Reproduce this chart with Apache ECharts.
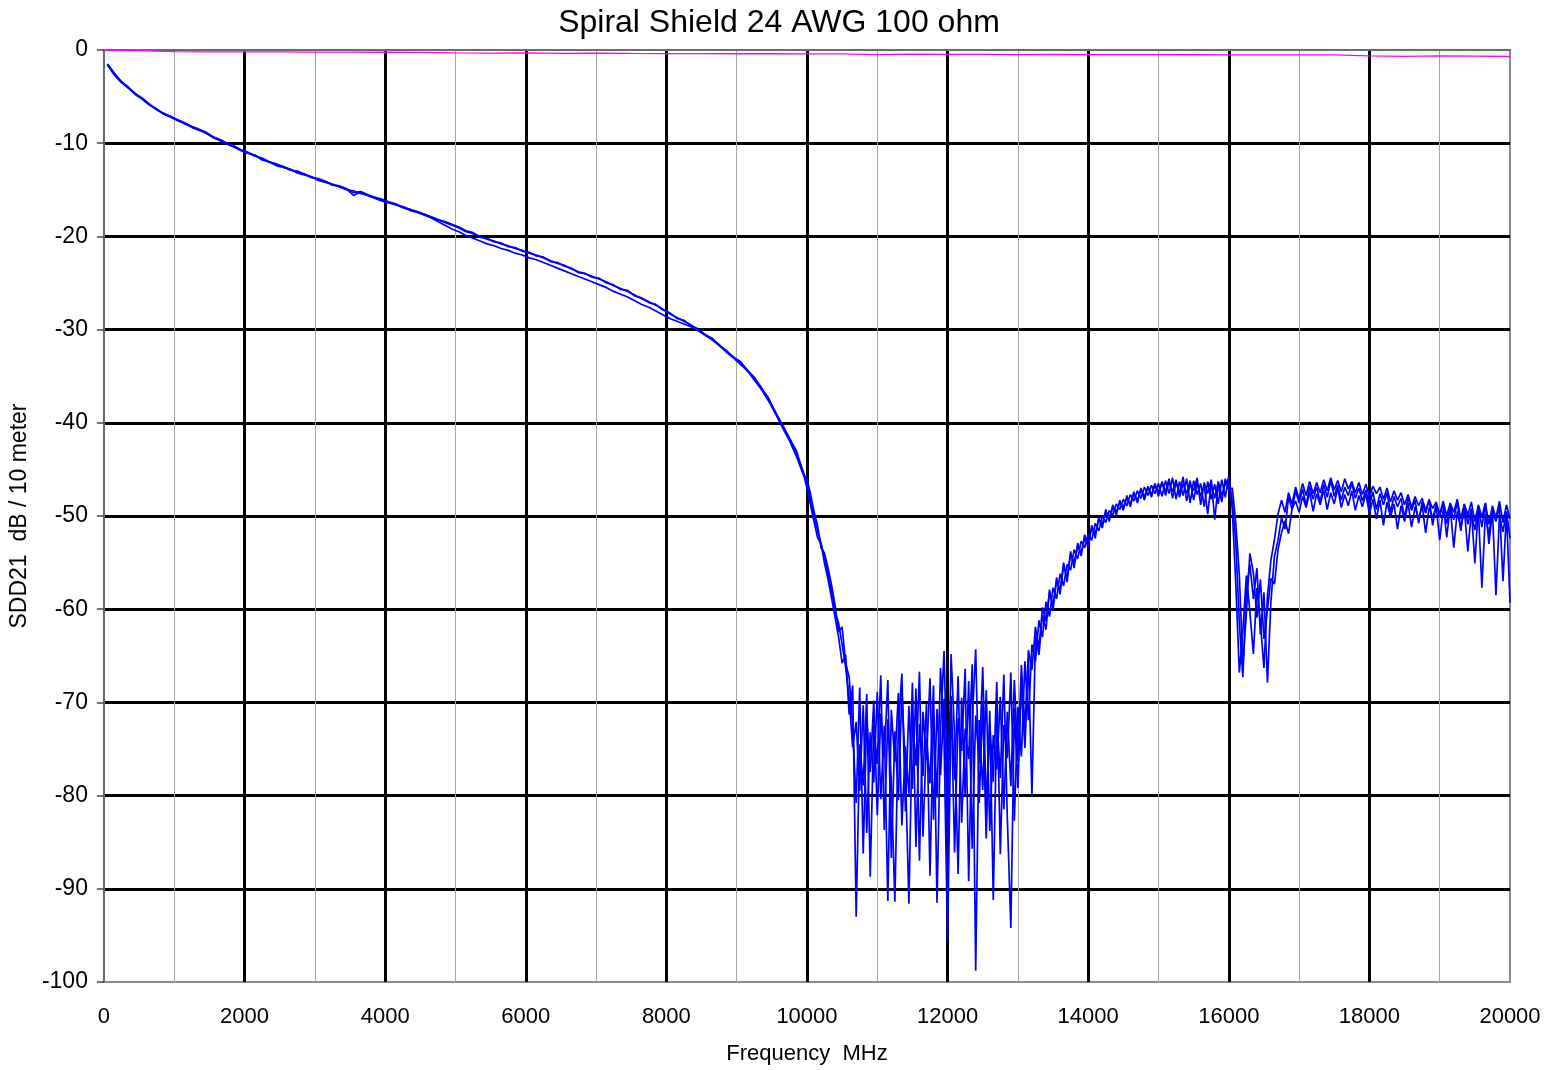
<!DOCTYPE html>
<html>
<head>
<meta charset="utf-8">
<script src="https://cdn.jsdelivr.net/npm/echarts@6/dist/echarts.min.js"></script>
<style>
html,body{margin:0;padding:0;background:#fff;}
#chart{width:1547px;height:1070px;}
</style>
</head>
<body>
<div id="chart"></div>
<script>
// Frequency sampling (MHz)
const LOW_F0 = 50, LOW_STEP = 100;     // 50 .. 9950
const HIGH_F0 = 10000, HIGH_STEP = 50; // 10000 .. 20000
const MAG_F0 = 0, MAG_STEP = 500;      // 0 .. 20000

// Trace 1 (dB)
const trace1Low = [
-1.5,-2.6,-3.4,-4.1,-4.7,-5.3,-5.9,-6.4,-6.8,-7.2,
-7.5,-7.9,-8.2,-8.5,-8.9,-9.3,-9.7,-10.0,-10.4,-10.7,
-11.0,-11.3,-11.7,-12.0,-12.3,-12.5,-12.8,-13.1,-13.3,-13.6,
-13.9,-14.1,-14.4,-14.6,-14.9,-15.3,-15.2,-15.5,-15.8,-16.1,
-16.3,-16.5,-16.9,-17.1,-17.3,-17.6,-17.9,-18.2,-18.5,-18.8,
-19.1,-19.5,-19.7,-20.0,-20.3,-20.5,-20.8,-21.0,-21.3,-21.5,
-21.8,-22.0,-22.3,-22.6,-22.9,-23.1,-23.5,-23.8,-24.0,-24.3,
-24.6,-24.9,-25.3,-25.6,-25.9,-26.3,-26.7,-27.0,-27.4,-27.8,
-28.3,-28.7,-29.1,-29.5,-30.0,-30.5,-31.0,-31.6,-32.3,-32.9,
-33.5,-34.3,-35.2,-36.2,-37.4,-38.8,-40.3,-41.6,-43.2,-45.3
];
const trace1High = [
-46.4,-48.3,-50.1,-51.6,-52.9,-54.5,-56.2,-58.1,-60.3,-61.5,
-63.8,-66.2,-69.5,-74.8,-72.1,-79.5,-70.3,-84.0,-73.2,-78.6,
-68.9,-80.4,-72.5,-91.3,-70.8,-76.4,-69.0,-83.2,-74.7,-79.8,
-67.9,-85.5,-72.3,-77.9,-70.1,-88.6,-71.4,-80.2,-66.3,-74.0,
-95.6,-70.5,-78.3,-67.2,-82.9,-72.8,-76.1,-65.9,-98.8,-71.9,
-79.4,-68.7,-83.8,-73.5,-77.2,-69.4,-81.5,-71.0,-79.0,-67.6,
-76.3,-66.0,-72.8,-64.4,-66.5,-61.9,-64.2,-59.8,-61.3,-58.2,
-59.6,-57.0,-57.9,-55.4,-56.6,-54.1,-55.0,-53.2,-53.9,-52.4,
-52.8,-51.3,-51.9,-50.4,-50.9,-49.6,-50.2,-49.1,-49.5,-48.6,
-49.0,-48.1,-48.7,-47.6,-48.3,-47.2,-47.9,-46.9,-47.7,-46.6,
-47.5,-46.4,-47.8,-46.3,-47.4,-46.1,-48.0,-46.5,-47.6,-46.2,
-48.3,-46.4,-47.9,-46.7,-49.8,-46.5,-48.1,-46.3,-47.8,-46.6,
-46.0,-48.4,-52.9,-61.5,-67.3,-57.8,-55.2,-58.9,-55.6,-62.7,
-58.2,-67.9,-59.1,-54.3,-52.6,-50.2,-51.4,-48.0,-49.3,-47.3,
-48.6,-47.1,-48.9,-46.8,-48.2,-46.9,-48.5,-46.6,-48.0,-46.2,
-47.9,-46.7,-48.3,-46.9,-47.8,-46.5,-48.1,-47.0,-48.4,-47.2,
-48.9,-47.4,-49.3,-47.6,-48.8,-47.5,-49.6,-47.9,-49.0,-48.1,
-50.2,-48.0,-49.4,-48.3,-50.8,-48.5,-49.7,-48.2,-51.0,-48.7,
-50.1,-48.6,-52.3,-48.9,-50.4,-48.4,-51.6,-48.8,-50.9,-49.2,
-55.1,-49.0,-51.2,-48.7,-53.0,-49.4,-50.6,-48.9,-57.0,-49.6,
-59.3
];

// Trace 2 (dB)
const trace2Low = [
-1.6,-2.7,-3.5,-4.1,-4.8,-5.3,-5.9,-6.3,-6.9,-7.2,
-7.6,-7.9,-8.3,-8.6,-8.9,-9.4,-9.7,-10.1,-10.4,-10.8,
-11.1,-11.3,-11.8,-12.0,-12.4,-12.6,-12.8,-13.2,-13.4,-13.6,
-14.0,-14.2,-14.4,-14.7,-15.0,-15.1,-15.4,-15.6,-15.9,-16.2,
-16.4,-16.6,-16.9,-17.2,-17.4,-17.7,-18.0,-18.4,-18.8,-19.2,
-19.5,-19.9,-20.2,-20.5,-20.8,-21.0,-21.3,-21.5,-21.8,-22.0,
-22.3,-22.5,-22.8,-23.1,-23.4,-23.7,-24.0,-24.3,-24.6,-24.9,
-25.2,-25.5,-25.9,-26.2,-26.5,-26.9,-27.3,-27.6,-28.0,-28.4,
-28.8,-29.1,-29.4,-29.7,-30.1,-30.6,-31.1,-31.7,-32.4,-33.0,
-33.7,-34.4,-35.4,-36.4,-37.6,-39.0,-40.5,-41.9,-43.6,-45.6
];
const trace2High = [
-46.0,-47.6,-49.5,-51.0,-53.4,-54.0,-55.6,-57.4,-59.6,-62.4,
-61.9,-65.8,-67.3,-72.6,-80.8,-68.4,-86.2,-71.7,-77.5,-69.8,
-82.1,-71.2,-75.9,-67.6,-86.7,-73.1,-80.5,-68.8,-77.0,-91.6,
-71.6,-76.8,-66.7,-84.4,-73.8,-78.7,-68.2,-91.5,-72.9,-64.5,
-79.6,-69.3,-86.1,-71.7,-75.2,-66.4,-89.2,-72.0,-64.3,-80.8,
-70.2,-84.6,-70.9,-91.2,-71.3,-78.1,-67.0,-82.4,-94.2,-70.6,
-79.2,-68.1,-74.9,-65.3,-80.0,-62.8,-64.9,-60.6,-62.2,-57.9,
-60.1,-56.6,-58.4,-55.0,-57.1,-53.8,-55.6,-52.9,-54.3,-52.0,
-53.5,-51.0,-52.4,-50.1,-51.3,-49.3,-50.6,-48.8,-49.9,-48.3,
-49.4,-47.8,-49.0,-47.4,-48.6,-47.0,-48.3,-46.8,-48.0,-46.5,
-47.9,-46.3,-47.4,-46.0,-48.1,-46.4,-47.5,-45.8,-48.4,-46.6,
-47.3,-45.9,-48.8,-46.4,-47.6,-46.1,-50.4,-46.6,-48.5,-46.0,
-47.2,-47.0,-50.8,-56.3,-66.1,-60.4,-54.0,-56.1,-60.9,-56.8,
-63.2,-60.0,-56.7,-57.3,-53.6,-51.8,-50.5,-51.9,-49.2,-48.4,
-49.6,-47.9,-49.1,-47.4,-49.5,-47.6,-48.8,-47.2,-49.3,-47.5,
-48.7,-47.0,-49.1,-47.7,-48.9,-47.3,-49.4,-47.8,-49.0,-47.6,
-49.8,-48.2,-50.3,-48.3,-51.0,-48.5,-50.1,-48.7,-51.4,-48.9,
-50.6,-48.6,-51.2,-49.0,-50.4,-48.8,-51.8,-49.1,-50.2,-48.9,
-52.6,-49.3,-50.8,-49.0,-53.4,-49.5,-51.3,-49.2,-53.8,-49.6,
-51.5,-49.4,-57.7,-49.8,-52.1,-49.3,-58.5,-50.0,-51.7,-49.5,
-52.4
];

// Trace 3 (dB)
const trace3Low = [
-1.5,-2.5,-3.4,-4.0,-4.7,-5.2,-5.8,-6.4,-6.8,-7.1,
-7.5,-7.8,-8.2,-8.5,-8.8,-9.3,-9.6,-10.0,-10.3,-10.7,
-11.0,-11.4,-11.6,-12.0,-12.2,-12.5,-12.9,-13.0,-13.3,-13.7,
-13.8,-14.1,-14.5,-14.6,-14.9,-15.6,-15.2,-15.6,-15.8,-16.0,
-16.3,-16.6,-16.8,-17.1,-17.4,-17.6,-17.9,-18.2,-18.4,-18.7,
-19.0,-19.4,-19.6,-20.1,-20.2,-20.6,-20.7,-21.1,-21.2,-21.6,
-21.7,-22.1,-22.2,-22.7,-22.8,-23.2,-23.4,-23.9,-24.0,-24.4,
-24.5,-25.0,-25.2,-25.7,-25.8,-26.4,-26.6,-27.1,-27.3,-27.9,
-28.2,-28.8,-29.0,-29.6,-29.9,-30.6,-30.9,-31.7,-32.2,-33.0,
-33.4,-34.4,-35.1,-36.3,-37.3,-38.9,-40.2,-41.7,-43.0,-45.5
];
const trace3High = [
-47.0,-48.8,-50.6,-52.3,-53.0,-55.1,-56.8,-58.8,-60.9,-63.0,
-65.8,-64.9,-71.3,-68.2,-93.0,-74.5,-78.9,-69.1,-88.7,-72.4,
-76.6,-67.1,-83.7,-71.8,-78.5,-91.4,-72.6,-66.9,-81.7,-70.4,
-79.3,-68.5,-87.0,-71.0,-76.2,-67.4,-82.6,-70.7,-77.8,-69.6,
-84.9,-64.8,-73.6,-88.4,-69.5,-79.9,-67.7,-85.7,-71.4,-76.5,
-66.2,-81.1,-72.2,-78.5,-67.8,-86.3,-72.4,-76.0,-66.8,-82.7,
-70.5,-75.8,-65.6,-71.9,-63.8,-65.6,-61.2,-63.0,-59.2,-60.8,
-57.7,-58.9,-56.2,-57.5,-55.2,-55.8,-53.6,-54.6,-52.7,-53.4,
-51.9,-52.6,-50.8,-51.6,-50.0,-50.7,-49.4,-49.9,-48.7,-49.3,
-48.2,-48.9,-47.7,-48.4,-47.3,-48.1,-46.9,-47.8,-46.7,-47.6,
-46.5,-47.9,-46.2,-47.6,-45.9,-48.2,-46.3,-47.8,-46.0,-48.6,
-46.2,-47.7,-46.5,-49.0,-46.3,-48.2,-46.6,-48.7,-46.1,-48.0,
-45.7,-49.3,-57.4,-66.8,-62.3,-56.4,-60.3,-64.8,-57.7,-61.5,
-66.3,-58.6,-54.7,-52.5,-49.8,-48.3,-49.6,-47.5,-48.7,-46.9,
-48.2,-46.5,-47.8,-46.3,-47.6,-46.4,-47.5,-46.1,-47.3,-45.9,
-47.2,-46.2,-47.4,-46.0,-47.1,-46.3,-47.5,-46.4,-47.7,-46.6,
-47.9,-46.8,-47.6,-46.9,-48.2,-47.0,-48.5,-47.3,-48.3,-47.5,
-48.8,-47.7,-49.1,-47.9,-48.9,-48.1,-49.4,-48.3,-49.2,-48.5,
-49.8,-48.4,-50.0,-48.6,-49.6,-48.2,-50.3,-48.7,-49.9,-48.5,
-50.6,-48.8,-50.1,-48.6,-50.9,-48.9,-50.2,-48.4,-50.7,-48.8,
-50.3
];

// Magenta reference trace (dB), 0..20000 step 500
const magenta = [
-0.05,-0.07,-0.18,-0.20,-0.20,-0.21,-0.22,-0.22,-0.24,-0.25,
-0.30,-0.33,-0.30,-0.36,-0.35,-0.37,-0.38,-0.38,-0.40,-0.40,
-0.41,-0.42,-0.50,-0.45,-0.47,-0.46,-0.50,-0.48,-0.50,-0.50,
-0.50,-0.51,-0.52,-0.52,-0.52,-0.53,-0.62,-0.68,-0.63,-0.66,
-0.70
];

// Axis ticks
const xTicks = { min: 0, max: 20000, interval: 2000 };
const yTicks = { min: -100, max: 0, interval: 10 };

function pairs(f0, step, vals) {
  return vals.map((v, i) => [f0 + i * step, v]);
}
function trace(low, high) {
  return pairs(LOW_F0, LOW_STEP, low).concat(pairs(HIGH_F0, HIGH_STEP, high));
}

const FONT = "'Liberation Sans', Arial, sans-serif";
const chart = echarts.init(document.getElementById('chart'), null, { renderer: 'canvas' });

const blueLine = (name, data) => ({
  name, type: 'line', data, showSymbol: false, symbol: 'none',
  lineStyle: { color: '#0000ff', width: 1.7 }, itemStyle: { color: '#0000ff' },
  z: 3
});

chart.setOption({
  animation: false,
  backgroundColor: '#ffffff',
  title: {
    text: 'Spiral Shield 24 AWG 100 ohm',
    left: 774, top: 2, textAlign: 'center',
    textStyle: { fontFamily: FONT, fontSize: 32, fontWeight: 'normal', color: '#000' }
  },
  grid: {
    left: 102, right: 37, top: 50, bottom: 83,
    show: true, borderColor: '#8c8c8c', borderWidth: 2, backgroundColor: 'transparent'
  },
  xAxis: {
    type: 'value', min: xTicks.min, max: xTicks.max, interval: xTicks.interval,
    name: 'Frequency  MHz', nameLocation: 'middle', nameGap: 61,
    nameTextStyle: { fontFamily: FONT, fontSize: 22, color: '#000' },
    axisLine: { show: true, lineStyle: { color: '#6b6b6b', width: 2 } },
    axisTick: { show: false },
    axisLabel: { fontFamily: FONT, fontSize: 22, color: '#000', margin: 24,
      formatter: (v) => String(v) },
    splitLine: { show: true, showMinLine: false, showMaxLine: false, lineStyle: { color: '#000', width: 3 } },
    minorTick: { show: false, splitNumber: 2 },
    minorSplitLine: { show: true, lineStyle: { color: '#a6a6a6', width: 1 } }
  },
  yAxis: {
    type: 'value', min: yTicks.min, max: yTicks.max, interval: yTicks.interval,
    name: 'SDD21  dB / 10 meter', nameLocation: 'middle', nameGap: 58, nameRotate: 90,
    nameTextStyle: { fontFamily: FONT, fontSize: 23, color: '#000' },
    axisLine: { show: true, lineStyle: { color: '#6b6b6b', width: 2 } },
    axisTick: { show: true, inside: false, length: 7, lineStyle: { color: '#444', width: 1.5 } },
    axisLabel: { fontFamily: FONT, fontSize: 23, color: '#000', margin: 16,
      formatter: (v) => String(v) },
    splitLine: { show: true, showMinLine: false, showMaxLine: false, lineStyle: { color: '#000', width: 3 } }
  },
  series: [
    blueLine('Trace 1', trace(trace1Low, trace1High)),
    blueLine('Trace 2', trace(trace2Low, trace2High)),
    blueLine('Trace 3', trace(trace3Low, trace3High)),
    {
      name: 'Reference', type: 'line', data: pairs(MAG_F0, MAG_STEP, magenta),
      showSymbol: false, symbol: 'none',
      lineStyle: { color: '#ff00ff', width: 1.3 }, z: 4
    }
  ]
});
</script>
</body>
</html>
